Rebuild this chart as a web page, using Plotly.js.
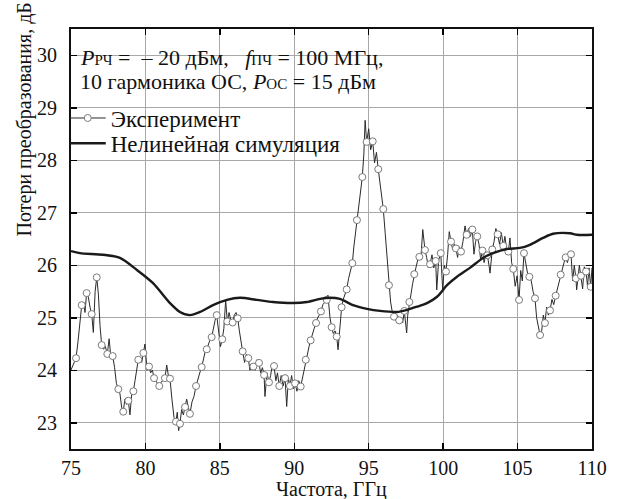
<!DOCTYPE html>
<html>
<head>
<meta charset="utf-8">
<script src="https://cdn.plot.ly/plotly-3.0.1.min.js"></script>
<style>html,body{margin:0;padding:0;background:#fff;}</style>
</head>
<body>
<div id="chart" style="width:617px;height:499px;"></div>
<script>
// ---- data ----
const xTicks = [75, 80, 85, 90, 95, 100, 105, 110];
const yTicks = [23, 24, 25, 26, 27, 28, 29, 30];

const simX = [75.0, 75.6, 77.15, 78.29, 79.43, 80.51, 81.65, 82.32, 82.99, 83.67, 84.54, 85.48, 86.35, 87.49, 88.57, 89.91, 90.85, 91.73, 92.40, 93.07, 93.94, 94.88, 95.76, 96.90, 97.57, 98.24, 98.92, 99.59, 100.26, 100.93, 101.80, 102.68, 103.35, 104.29, 105.16, 105.83, 106.71, 107.38, 108.52, 109.0, 110.0];
const simY = [26.27, 26.23, 26.20, 26.14, 25.91, 25.66, 25.28, 25.11, 25.05, 25.11, 25.24, 25.34, 25.38, 25.34, 25.30, 25.28, 25.30, 25.36, 25.38, 25.36, 25.24, 25.17, 25.13, 25.11, 25.15, 25.21, 25.28, 25.40, 25.62, 25.78, 25.95, 26.14, 26.23, 26.31, 26.33, 26.39, 26.52, 26.60, 26.61, 26.58, 26.58];

const expX = [74.99,
75.34, 75.47, 75.60,
75.72, 75.83, 75.94,
76.05, 76.16, 76.28,
76.39, 76.50, 76.62,
76.73, 76.84, 76.95,
77.06, 77.19, 77.31,
77.44, 77.56, 77.68,
77.80, 77.93, 78.05,
78.18, 78.29, 78.40,
78.51, 78.62, 78.74,
78.85, 78.96, 79.08,
79.19, 79.30, 79.41,
79.52, 79.63, 79.75,
79.86, 79.97, 80.11,
80.24, 80.35, 80.47,
80.58, 80.70, 80.81,
80.93, 81.06, 81.18,
81.31, 81.43, 81.54,
81.65, 81.78, 81.92,
82.05, 82.14, 82.23,
82.32, 82.43, 82.55,
82.66, 82.77, 82.88,
82.99, 83.13, 83.26,
83.40, 83.53, 83.65,
83.78, 83.89, 84.01,
84.12, 84.23, 84.34,
84.45, 84.56, 84.68,
84.79, 84.91, 85.04,
85.16, 85.27, 85.39,
85.50, 85.62, 85.74,
85.86, 85.97, 86.09,
86.20, 86.31, 86.42,
86.53, 86.66, 86.78,
86.91, 87.02, 87.14,
87.25, 87.38, 87.50,
87.63, 87.74, 87.86,
87.97, 88.03, 88.17,
88.30, 88.41, 88.53,
88.64, 88.76, 88.87,
88.99, 89.12, 89.25,
89.38, 89.49, 89.60,
89.71, 89.82, 89.94,
90.05, 90.18, 90.30,
90.43, 90.54, 90.66,
90.77, 90.88, 90.99,
91.10, 91.22, 91.34,
91.46, 91.57, 91.68,
91.79, 91.92, 92.05,
92.18, 92.26, 92.40,
92.51, 92.62, 92.74,
92.85, 92.94, 93.06,
93.18, 93.29, 93.41,
93.52, 93.65, 93.77,
93.90, 94.00, 94.11,
94.21, 94.33, 94.45,
94.57, 94.67, 94.76,
94.86, 95.00, 95.13,
95.27, 95.39, 95.52,
95.64, 95.75, 95.87,
95.98, 96.11, 96.23,
96.36, 96.47, 96.59,
96.70, 96.82, 96.93,
97.05, 97.16, 97.28,
97.39, 97.55, 97.62,
97.73, 97.84, 97.95,
98.06, 98.17, 98.29,
98.40, 98.52, 98.63,
98.78, 98.89, 99.01,
99.12, 99.25, 99.37,
99.50, 99.57, 99.70,
99.84, 99.97, 100.08,
100.19, 100.30, 100.41,
100.53, 100.64, 100.75,
100.86, 100.97, 101.09,
101.20, 101.33, 101.47,
101.58, 101.71, 101.83,
101.96, 102.07, 102.18,
102.29, 102.41, 102.52,
102.64, 102.75, 102.86,
102.97, 103.08, 103.15,
103.30, 103.42, 103.54,
103.66, 103.79, 103.91,
104.04, 104.15, 104.27,
104.38, 104.49, 104.60,
104.71, 104.84, 104.97,
105.10, 105.21, 105.32,
105.43, 105.55, 105.67,
105.79, 105.92, 106.04,
106.17, 106.28, 106.40,
106.51, 106.62, 106.73,
106.84, 106.95, 107.07,
107.18, 107.31, 107.43,
107.56, 107.67, 107.78,
107.90, 108.01, 108.12,
108.23, 108.35, 108.47,
108.59, 108.70, 108.81,
108.92, 108.97, 109.15,
109.26, 109.37, 109.48,
109.60, 109.70, 109.80,
109.91, 110.0];

const expY = [24.00,
24.23, 24.55, 24.95,
25.24, 25.30, 25.10,
25.47, 25.40, 25.20,
25.07, 24.72, 25.50,
25.77, 25.45, 24.85,
24.48, 24.40, 24.45,
24.31, 24.60, 24.25,
24.27, 24.05, 23.75,
23.64, 23.55, 23.30,
23.21, 23.45, 23.35,
23.42, 23.15, 23.55,
23.60, 23.80, 24.05,
24.20, 24.25, 24.15,
24.33, 24.50, 24.00,
24.07, 23.95, 24.00,
23.85, 23.80, 23.75,
23.70, 23.78, 23.80,
23.85, 24.10, 23.90,
23.84, 23.45, 23.10,
23.02, 23.20, 22.85,
22.98, 23.25, 23.15,
23.30, 23.45, 23.30,
23.17, 23.40, 23.50,
23.70, 23.85, 23.95,
24.06, 24.20, 24.35,
24.40, 24.50, 24.58,
24.63, 24.80, 24.95,
25.05, 24.75, 24.45,
24.59, 24.80, 25.33,
24.93, 25.10, 24.95,
24.91, 25.05, 25.10,
24.99, 24.75, 24.50,
24.36, 24.15, 24.30,
24.23, 24.00, 24.10,
24.07, 24.00, 24.20,
24.14, 23.95, 24.05,
23.91, 23.50, 23.95,
23.77, 23.90, 24.12,
24.08, 23.80, 23.95,
23.70, 23.90, 23.70,
23.85, 23.31, 23.85,
23.70, 23.90, 23.65,
23.75, 23.60, 23.80,
23.69, 23.85, 24.00,
24.20, 24.30, 24.45,
24.57, 24.70, 24.80,
24.90, 25.00, 25.05,
25.12, 25.25, 25.30,
25.34, 25.43, 25.00,
24.82, 24.70, 24.75,
24.64, 24.39, 24.90,
25.20, 25.35, 25.45,
25.54, 25.75, 25.90,
26.04, 26.35, 26.60,
26.86, 27.15, 27.40,
27.68, 28.10, 28.76,
28.35, 28.60, 28.20,
28.36, 27.95, 28.15,
27.83, 27.55, 27.30,
27.07, 26.60, 26.10,
25.62, 25.30, 25.10,
25.02, 24.95, 25.05,
24.95, 25.00, 24.90,
25.13, 24.71, 25.05,
25.30, 25.45, 25.65,
25.83, 25.95, 26.10,
26.16, 26.20, 26.68,
26.29, 26.15, 25.95,
26.02, 26.20, 25.95,
26.08, 25.53, 26.10,
26.23, 25.53, 26.00,
25.88, 26.20, 26.64,
26.45, 26.30, 26.40,
26.32, 26.15, 26.35,
26.26, 26.45, 26.75,
26.58, 26.70, 26.55,
26.68, 26.21, 26.45,
26.55, 26.40, 26.10,
26.28, 26.05, 26.20,
26.19, 26.00, 25.85,
26.30, 26.45, 26.70,
26.59, 26.40, 26.62,
26.37, 26.55, 26.30,
26.26, 26.52, 26.05,
25.93, 25.60, 25.80,
25.34, 25.90, 25.70,
26.23, 26.05, 25.85,
25.78, 25.70, 25.50,
25.37, 25.00, 24.83,
24.67, 24.75, 25.05,
24.90, 25.20, 25.05,
25.14, 25.35, 25.25,
25.42, 25.55, 25.70,
25.82, 25.95, 26.05,
26.15, 26.05, 26.20,
26.21, 25.70, 26.00,
25.75, 25.53, 26.00,
25.80, 25.55, 25.97,
25.88, 25.60, 25.95,
25.59, 25.95];

const seriesNames = ['Эксперимент', 'Нелинейная симуляция'];
const xTitle = 'Частота, ГГц';
const yTitle = 'Потери преобразования, дБ';
const SUB = s => '<span style="font-size:15px">' + s + '</span>';
const NB = '\u00a0';
const paramLine1 = '<i>P</i>' + SUB('РЧ') + ' =' + NB + ' – 20' + NB + 'дБм,' + NB + NB + ' <i>f</i>' + SUB('ПЧ') + ' =' + NB + '100 МГц,';
const paramLine2 = '10 гармоника ОС, <i>P</i>' + SUB('ОС') + ' = 15 дБм';

if (expX.length !== expY.length) throw new Error('exp length mismatch ' + expX.length + ' vs ' + expY.length);

const xRange = [75, 110];
const yRange = [22.5, 30.5];
// every third in-range sample carries a circle marker
const inRange = expX.filter(v => v >= xRange[0] && v <= xRange[1]).length;
const markerCount = Math.ceil(inRange / 3);

const FONT = 'Liberation Serif';
const INK = '#111';

const traces = [
  {
    x: expX, y: expY, name: seriesNames[0], type: 'scatter', mode: 'lines+markers', legend: 'legend',
    line: {color: '#2a2a2a', width: 1},
    marker: {symbol: 'circle', size: 7, color: '#ffffff', line: {color: '#7a7a7a', width: 1}, maxdisplayed: markerCount}
  },
  {
    x: simX, y: simY, name: seriesNames[1], type: 'scatter', mode: 'lines', legend: 'legend2',
    line: {color: '#1a1a1a', width: 2.4, shape: 'spline', smoothing: 0.8}
  }
];

const axisCommon = {
  ticks: 'inside', ticklen: 6, tickwidth: 1.5, tickcolor: '#000',
  showline: true, linecolor: INK, linewidth: 2, mirror: 'ticks',
  showgrid: true, gridcolor: '#a8a8a8', gridwidth: 1, zeroline: false,
  tickfont: {family: FONT, size: 20, color: INK}, fixedrange: true
};

const legendCommon = {xanchor: 'left', yanchor: 'middle', bgcolor: 'rgba(0,0,0,0)',
  font: {family: FONT, size: 23, color: INK}, itemwidth: 36, tracegroupgap: 0};

const layout = {
  width: 617, height: 499,
  margin: {l: 71, r: 25, t: 29, b: 50, pad: 0},
  paper_bgcolor: '#fff', plot_bgcolor: '#fff',
  font: {family: FONT, size: 20, color: INK},
  showlegend: true,
  legend: Object.assign({}, legendCommon, {x: -0.012, y: 0.788}),
  legend2: Object.assign({}, legendCommon, {x: -0.012, y: 0.728}),
  xaxis: Object.assign({}, axisCommon, {
    range: xRange, tickvals: xTicks, ticktext: xTicks.map(String)
  }),
  yaxis: Object.assign({}, axisCommon, {
    range: yRange, tickvals: yTicks, ticktext: yTicks.map(String),
    ticklabelstandoff: 8
  }),
  annotations: [
    {xref: 'paper', yref: 'paper', x: 0.014, y: 0.933, xanchor: 'left', yanchor: 'middle', align: 'left',
     showarrow: false, text: paramLine1, font: {family: FONT, size: 22, color: INK}},
    {xref: 'paper', yref: 'paper', x: 0.014, y: 0.874, xanchor: 'left', yanchor: 'middle', align: 'left',
     showarrow: false, text: paramLine2, font: {family: FONT, size: 22, color: INK}},
    {xref: 'paper', yref: 'paper', x: -0.09, y: 0.785, xanchor: 'center', yanchor: 'middle',
     textangle: -90, showarrow: false, text: yTitle, font: {family: FONT, size: 20, color: INK}},
    {xref: 'paper', yref: 'paper', x: 0.5, y: -0.0976, xanchor: 'center', yanchor: 'middle',
     showarrow: false, text: xTitle, font: {family: FONT, size: 20, color: INK}}
  ]
};

Plotly.newPlot('chart', traces, layout, {displayModeBar: false, staticPlot: true});
</script>
</body>
</html>
